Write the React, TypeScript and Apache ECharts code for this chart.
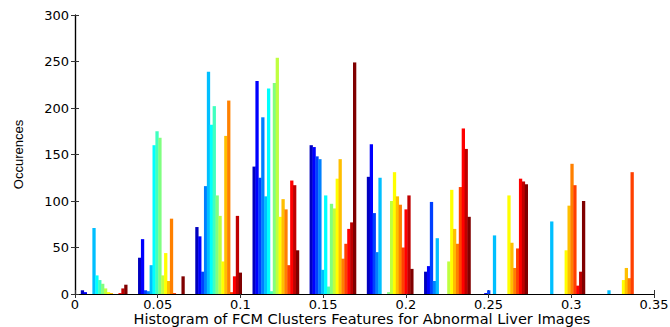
import React, { useEffect, useRef } from 'react';
import * as echarts from 'echarts';

// Bin centres of the 10 histogram bins (x values)
const binCenters = [0.0175, 0.0521, 0.0867, 0.1213, 0.1558, 0.1904, 0.225, 0.2596, 0.2942, 0.3288];

// Occurrence counts: one row per cluster feature (16), one column per bin (10)
const counts: number[][] = [
  [4, 39, 72, 137, 160, 126, 24, 0, 0, 0],
  [2, 59, 62, 229, 158, 161, 30, 1, 0, 0],
  [0, 4, 24, 125, 148, 87, 99, 4, 0, 0],
  [0, 3, 116, 190, 145, 45, 14, 0, 0, 0],
  [71, 31, 239, 105, 26, 125, 60, 63, 78, 4],
  [20, 160, 182, 221, 106, 0, 0, 0, 0, 0],
  [15, 175, 202, 3, 8, 0, 0, 0, 0, 0],
  [11, 168, 106, 227, 97, 2, 0, 0, 0, 0],
  [6, 20, 84, 254, 92, 100, 35, 0, 0, 0],
  [2, 44, 35, 83, 124, 131, 112, 106, 47, 15],
  [1, 14, 170, 102, 145, 105, 70, 55, 95, 28],
  [0, 81, 208, 91, 38, 96, 54, 28, 140, 17],
  [0, 1, 2, 31, 54, 50, 115, 49, 117, 131],
  [1, 0, 19, 122, 70, 91, 178, 124, 9, 0],
  [6, 0, 84, 117, 77, 106, 156, 121, 24, 0],
  [10, 19, 23, 47, 249, 27, 83, 118, 100, 0],
];

// MATLAB "jet" colour map with 16 entries
const jetColors = [
  '#0000bf', '#0000ff', '#0040ff', '#0080ff', '#00bfff', '#00ffff', '#40ffbf', '#80ff80',
  '#bfff40', '#ffff00', '#ffbf00', '#ff8000', '#ff4000', '#ff0000', '#bf0000', '#800000',
];

const xLabel = 'Histogram of FCM Clusters Features for Abnormal Liver Images';
const yLabel = 'Occurences';

const groupWidth = 0.028;

export default function App() {
  const ref = useRef<HTMLDivElement>(null);
  useEffect(() => {
    const chart = echarts.init(ref.current!, null, { renderer: 'svg' });
    const barW = groupWidth / counts.length;
    const series = counts.map((row, s) => ({
      type: 'custom',
      name: 'f' + (s + 1),
      data: binCenters.map((c, b) => [c, row[b]]),
      clip: true,
      renderItem: (params: any, api: any) => {
        const c = api.value(0);
        const v = api.value(1);
        const x0 = c - groupWidth / 2 + s * barW;
        const p1 = api.coord([x0, v]);
        const p2 = api.coord([x0 + barW, 0]);
        return {
          type: 'rect',
          shape: { x: p1[0], y: p1[1], width: p2[0] - p1[0] + 0.4, height: p2[1] - p1[1] },
          style: { fill: jetColors[s] },
        };
      },
    }));
    const font = 'DejaVu Sans';
    const axisLine = { show: true, lineStyle: { color: '#000', width: 1.2 } };
    const axisTick = { show: true, inside: true, length: 4, lineStyle: { color: '#333' } };
    chart.setOption({
      animation: false,
      grid: { left: 75, right: 16, top: 15, bottom: 33, containLabel: false, outerBoundsMode: 'none' },
      graphic: [
        {
          type: 'text', x: 362, y: 319,
          style: {
            text: xLabel, fill: '#000', font: '14.5px "DejaVu Sans"',
            align: 'center', verticalAlign: 'middle',
          },
        },
      ],
      xAxis: [
        {
          type: 'value', min: 0, max: 0.35, interval: 0.05,
          axisLine, axisTick, splitLine: { show: false },
          axisLabel: { color: '#000', fontFamily: font, fontSize: 13, margin: 4 },
        },
        {
          type: 'value', position: 'top', min: 0, max: 0.35, interval: 0.05,
          axisLine, axisTick, splitLine: { show: false }, axisLabel: { show: false },
        },
      ],
      yAxis: [
        {
          type: 'value', min: 0, max: 300, interval: 50,
          axisLine, axisTick, splitLine: { show: false },
          axisLabel: { color: '#000', fontFamily: font, fontSize: 13, margin: 6 },
          name: yLabel, nameLocation: 'middle', nameGap: 50,
          nameTextStyle: { color: '#000', fontFamily: 'Liberation Sans', fontSize: 13 },
        },
        {
          type: 'value', position: 'right', min: 0, max: 300, interval: 50,
          axisLine, axisTick, splitLine: { show: false }, axisLabel: { show: false },
        },
      ],
      series,
    });
    return () => chart.dispose();
  }, []);
  return <div ref={ref} style={{ position: 'fixed', left: 0, top: 0, width: 670, height: 327, background: '#fff' }} />;
}
